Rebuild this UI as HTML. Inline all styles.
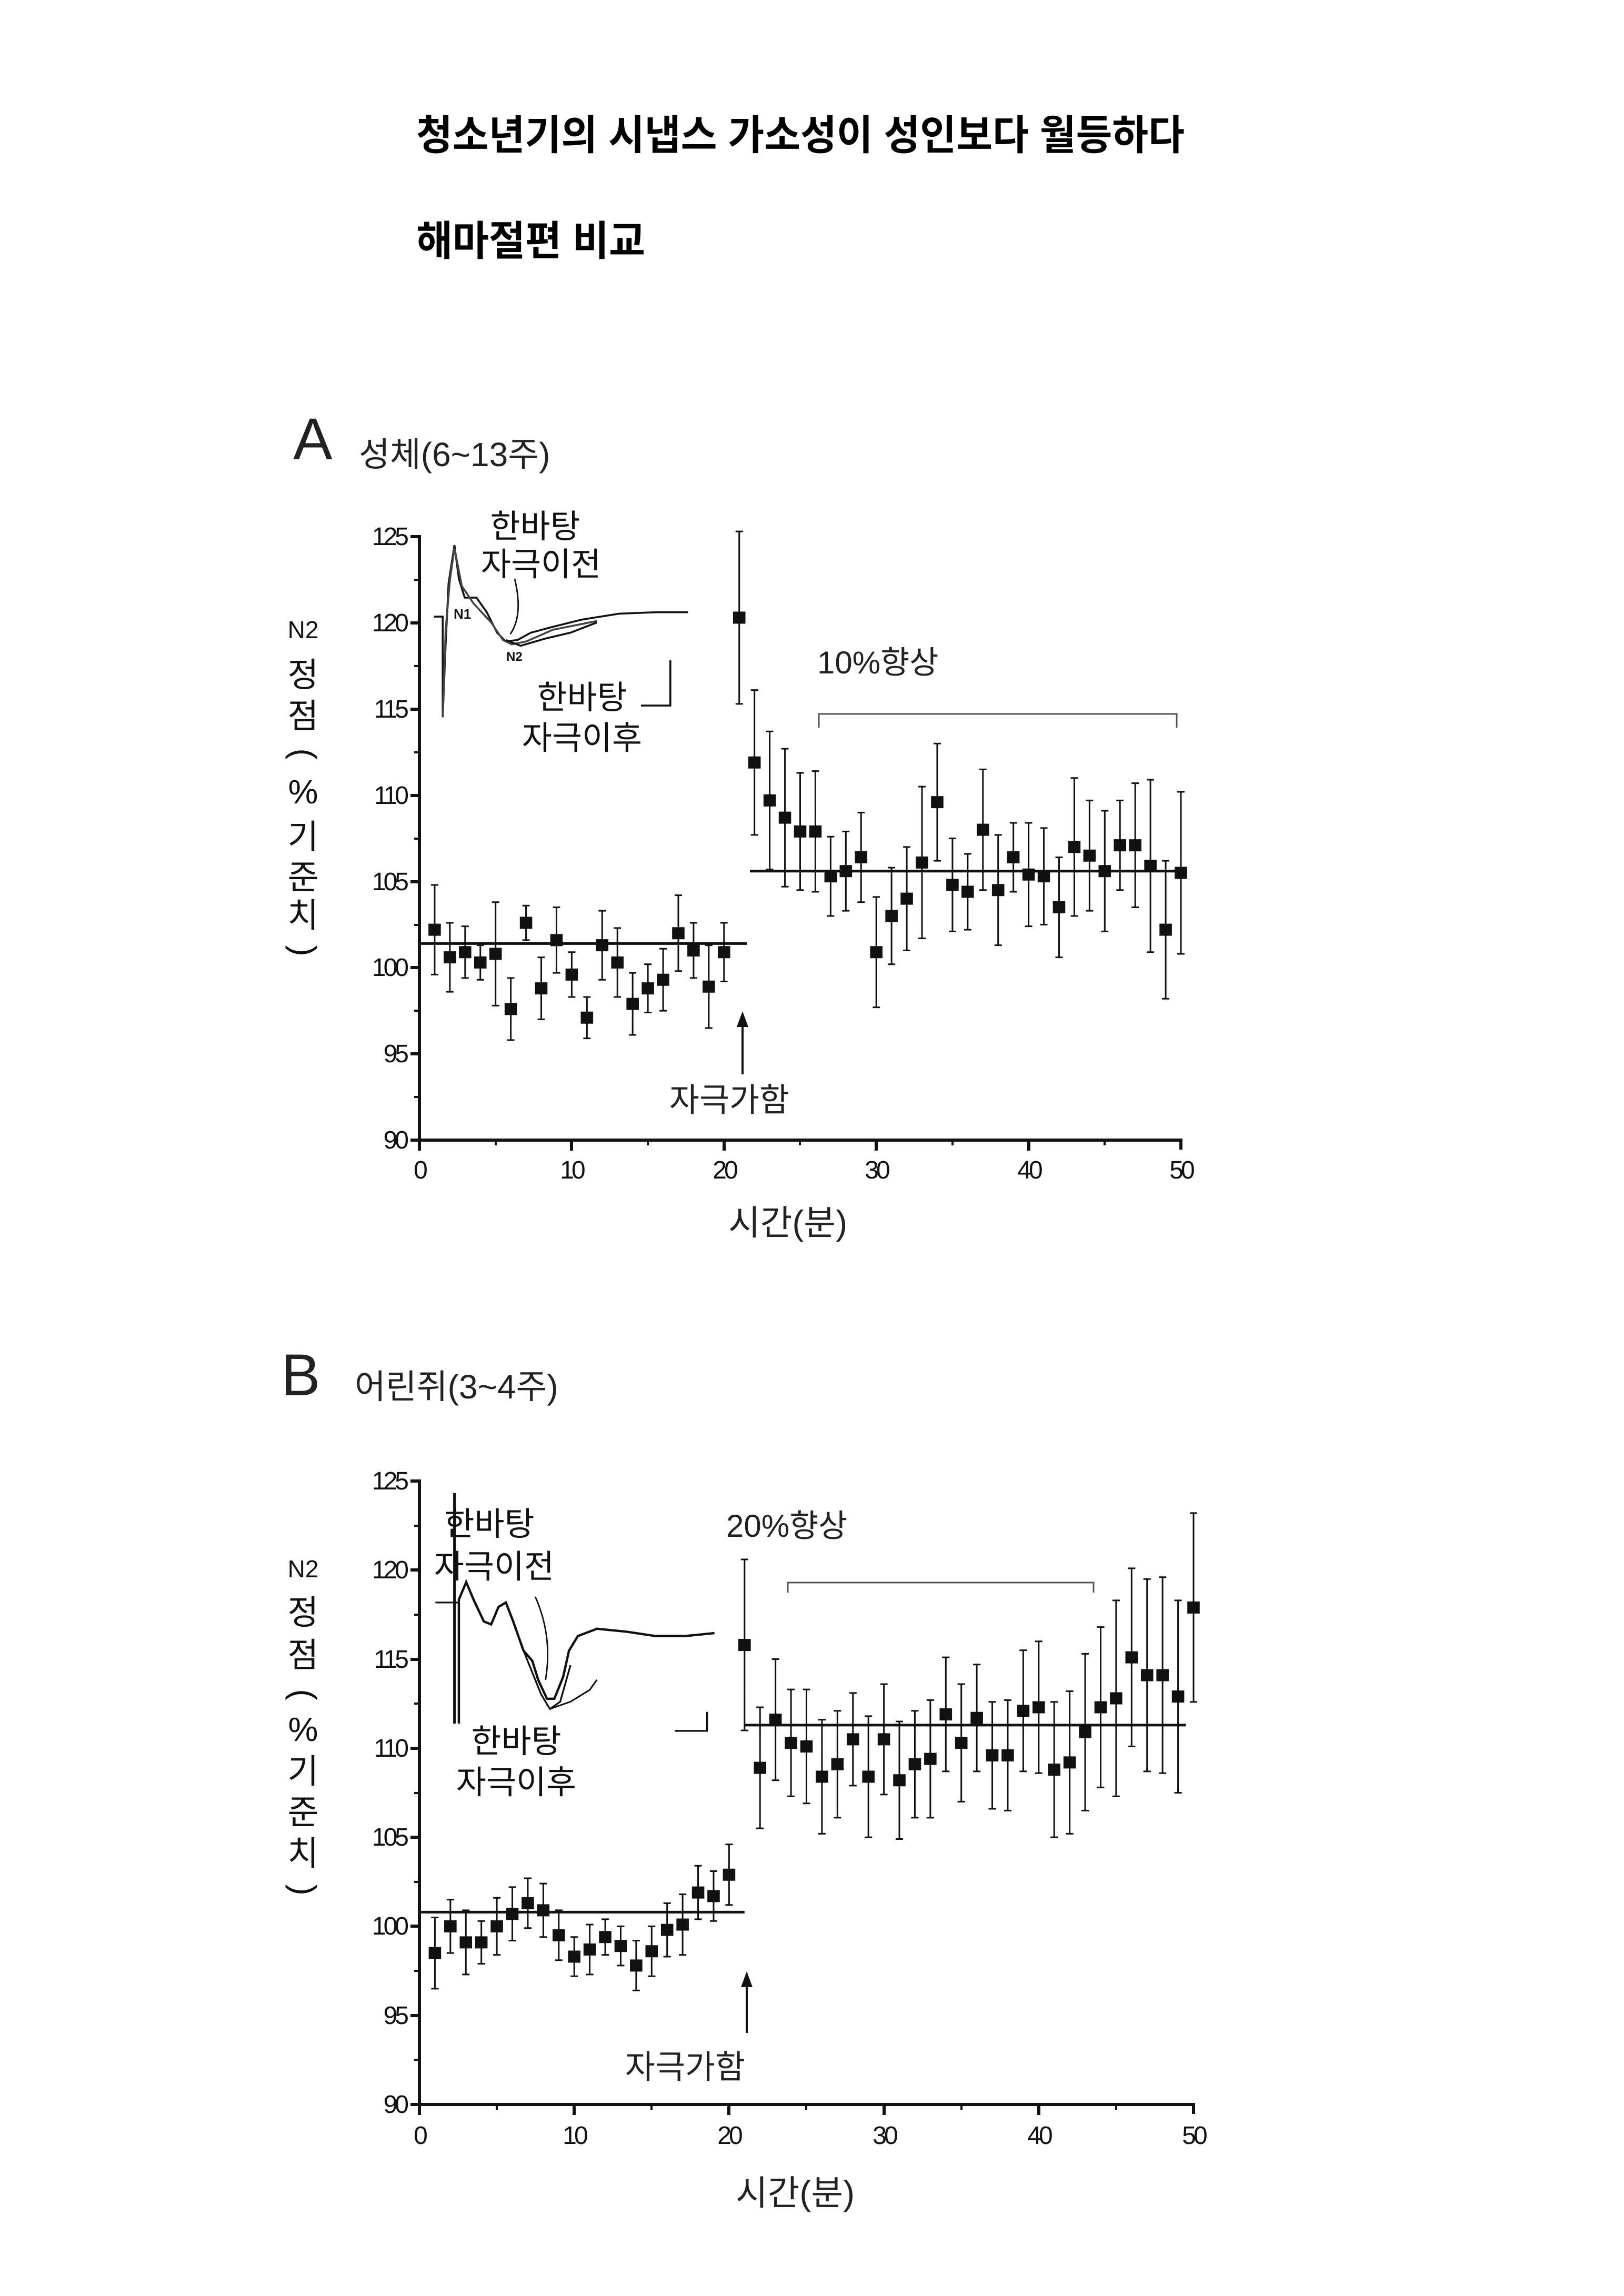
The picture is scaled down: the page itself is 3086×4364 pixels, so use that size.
<!DOCTYPE html>
<html><head><meta charset="utf-8">
<style>
html,body{margin:0;padding:0;background:#fff;}
svg{display:block;}
text{font-family:"Liberation Sans","Noto Sans CJK KR",sans-serif;fill:#111;}
.k{font-family:"Liberation Sans","Noto Sans CJK KR",sans-serif;}
.tk{font-size:48px;letter-spacing:-5px;}
</style></head>
<body>
<svg width="3086" height="4364" viewBox="0 0 3086 4364" xmlns="http://www.w3.org/2000/svg">
<rect width="3086" height="4364" fill="#fff"/>
<text x="791" y="284" font-size="78" font-weight="bold" textLength="1460" lengthAdjust="spacingAndGlyphs" style="fill:#000">청소년기의 시냅스 가소성이 성인보다 월등하다</text>
<text x="791" y="485" font-size="78" font-weight="bold" textLength="435" lengthAdjust="spacingAndGlyphs" style="fill:#000">해마절편 비교</text>

<!-- ================= PANEL A ================= -->
<text x="557" y="873" font-size="112" style="fill:#222">A</text>
<text x="682" y="886" font-size="64" class="k" style="fill:#222">성체(6~13주)</text>

<g font-size="64" text-anchor="middle" style="fill:#222">
<text x="576" y="1213" font-size="46">N2</text>
<text x="576" y="1305">정</text>
<text x="576" y="1383">점</text>
<text x="576" y="1433" transform="rotate(90 576 1433)" dy="20">(</text>
<text x="576" y="1527">%</text>
<text x="576" y="1613">기</text>
<text x="576" y="1690">준</text>
<text x="576" y="1762">치</text>
<text x="576" y="1807" transform="rotate(90 576 1807)" dy="20">)</text>
</g>

<g stroke="#111" stroke-width="6" fill="none">
<path d="M780 1020H797V2167H2244V2185"/>
<path d="M780 1184H797M780 1348H797M780 1512H797M780 1676H797M780 1839H797M780 2003H797M780 2167H797"/>
<path d="M787 1102H797M787 1266H797M787 1430H797M787 1594H797M787 1758H797M787 1921H797M787 2085H797" stroke-width="4"/>
<path d="M797 2167V2187M1086 2167V2187M1376 2167V2187M1665 2167V2187M1955 2167V2187"/>
<path d="M942 2167V2177M1231 2167V2177M1520 2167V2177M1810 2167V2177M2099 2167V2177" stroke-width="4"/>
</g>
<g class="tk" text-anchor="end">
<text x="772" y="1036">125</text><text x="772" y="1200">120</text><text x="772" y="1364">115</text>
<text x="772" y="1528">110</text><text x="772" y="1692">105</text><text x="772" y="1855">100</text>
<text x="772" y="2019">95</text><text x="772" y="2183">90</text>
</g>
<g class="tk" text-anchor="middle">
<text x="797" y="2240">0</text><text x="1086" y="2240">10</text><text x="1376" y="2240">20</text>
<text x="1665" y="2240">30</text><text x="1955" y="2240">40</text><text x="2244" y="2240">50</text>
</g>
<text x="1497" y="2347" font-size="66" text-anchor="middle" style="fill:#222">시간(분)</text>

<g transform="matrix(28.94 0 0 -32.77 797 5116.25)" fill="none" stroke="#111">
<path vector-effect="non-scaling-stroke" stroke-width="5" d="M0 101.4H21.5M21.7 105.6H50"/>
<path vector-effect="non-scaling-stroke" stroke-width="3" d="
M1 99.6V104.8M2 98.6V102.6M3 99.4V102.4M4 99.3V101.3M5 97.8V103.8M6 95.8V99.4M7 101.6V103.6M8 97V100.6M9 99.7V103.5M10 98.3V100.9
M11 95.9V98.3M12 99.3V103.3M13 98.3V102.3M14 96.1V99.7M15 97.4V100.2M16 97.5V101.1M17 99.8V104.2M18 99.4V102.6M19 96.5V101.3M20 99.2V102.6
M21 115.3V125.3M22 107.7V116.1M23 105.7V113.7M24 104.7V112.7M25 104.5V111.3M26 104.4V111.4M27 103V107.6M28 103.3V107.9M29 103.8V109M30 97.7V104.1
M31 100.2V105.8M32 101V107M33 101.7V110.5M34 106.2V113M35 102.1V107.5M36 102.2V106.6M37 104.5V111.5M38 101.3V107.7M39 104.4V108.4M40 102.4V108.4
M41 102.5V108.1M42 100.6V106.4M43 103V111M44 103.3V109.7M45 102.1V109.1M46 104.5V109.7M47 103.5V110.7M48 100.9V110.9M49 98.2V106.2M50 100.8V110.2"/>
<path vector-effect="non-scaling-stroke" stroke-width="3" d="
M.76 99.6h.48M.76 104.8h.48M1.76 98.6h.48M1.76 102.6h.48M2.76 99.4h.48M2.76 102.4h.48M3.76 99.3h.48M3.76 101.3h.48M4.76 97.8h.48M4.76 103.8h.48
M5.76 95.8h.48M5.76 99.4h.48M6.76 101.6h.48M6.76 103.6h.48M7.76 97h.48M7.76 100.6h.48M8.76 99.7h.48M8.76 103.5h.48M9.76 98.3h.48M9.76 100.9h.48
M10.76 95.9h.48M10.76 98.3h.48M11.76 99.3h.48M11.76 103.3h.48M12.76 98.3h.48M12.76 102.3h.48M13.76 96.1h.48M13.76 99.7h.48M14.76 97.4h.48M14.76 100.2h.48
M15.76 97.5h.48M15.76 101.1h.48M16.76 99.8h.48M16.76 104.2h.48M17.76 99.4h.48M17.76 102.6h.48M18.76 96.5h.48M18.76 101.3h.48M19.76 99.2h.48M19.76 102.6h.48
M20.76 115.3h.48M20.76 125.3h.48M21.76 107.7h.48M21.76 116.1h.48M22.76 105.7h.48M22.76 113.7h.48M23.76 104.7h.48M23.76 112.7h.48M24.76 104.5h.48M24.76 111.3h.48
M25.76 104.4h.48M25.76 111.4h.48M26.76 103h.48M26.76 107.6h.48M27.76 103.3h.48M27.76 107.9h.48M28.76 103.8h.48M28.76 109h.48M29.76 97.7h.48M29.76 104.1h.48
M30.76 100.2h.48M30.76 105.8h.48M31.76 101h.48M31.76 107h.48M32.76 101.7h.48M32.76 110.5h.48M33.76 106.2h.48M33.76 113h.48M34.76 102.1h.48M34.76 107.5h.48
M35.76 102.2h.48M35.76 106.6h.48M36.76 104.5h.48M36.76 111.5h.48M37.76 101.3h.48M37.76 107.7h.48M38.76 104.4h.48M38.76 108.4h.48M39.76 102.4h.48M39.76 108.4h.48
M40.76 102.5h.48M40.76 108.1h.48M41.76 100.6h.48M41.76 106.4h.48M42.76 103h.48M42.76 111h.48M43.76 103.3h.48M43.76 109.7h.48M44.76 102.1h.48M44.76 109.1h.48
M45.76 104.5h.48M45.76 109.7h.48M46.76 103.5h.48M46.76 110.7h.48M47.76 100.9h.48M47.76 110.9h.48M48.76 98.2h.48M48.76 106.2h.48M49.76 100.8h.48M49.76 110.2h.48"/>
<path vector-effect="non-scaling-stroke" stroke-width="23" stroke-linecap="square" d="
M.99 102.2h.02M1.99 100.6h.02M2.99 100.9h.02M3.99 100.3h.02M4.99 100.8h.02M5.99 97.6h.02M6.99 102.6h.02M7.99 98.8h.02M8.99 101.6h.02M9.99 99.6h.02
M10.99 97.1h.02M11.99 101.3h.02M12.99 100.3h.02M13.99 97.9h.02M14.99 98.8h.02M15.99 99.3h.02M16.99 102h.02M17.99 101h.02M18.99 98.9h.02M19.99 100.9h.02
M20.99 120.3h.02M21.99 111.9h.02M22.99 109.7h.02M23.99 108.7h.02M24.99 107.9h.02M25.99 107.9h.02M26.99 105.3h.02M27.99 105.6h.02M28.99 106.4h.02M29.99 100.9h.02
M30.99 103h.02M31.99 104h.02M32.99 106.1h.02M33.99 109.6h.02M34.99 104.8h.02M35.99 104.4h.02M36.99 108h.02M37.99 104.5h.02M38.99 106.4h.02M39.99 105.4h.02
M40.99 105.3h.02M41.99 103.5h.02M42.99 107h.02M43.99 106.5h.02M44.99 105.6h.02M45.99 107.1h.02M46.99 107.1h.02M47.99 105.9h.02M48.99 102.2h.02M49.99 105.5h.02"/>
</g>

<path d="M1556 1383V1357H2236V1383" stroke="#555" stroke-width="3" fill="none"/>
<text x="1553" y="1280" font-size="60" style="fill:#222">10%향상</text>
<path d="M1411 2042V1940" stroke="#111" stroke-width="4"/>
<path d="M1411 1922L1400 1952H1422Z" fill="#111"/>
<text x="1386" y="2112" font-size="62" text-anchor="middle" style="fill:#222">자극가함</text>

<g transform="matrix(2.791 0 0 2.772 -10 5)" fill="none" stroke="#111" stroke-width="1.3">
<path d="M299 421H305V490L307 440L309 398L313 372L316 395L320 408L328 408L335 418L342 432L348 438L356 437L365 432L380 428L400 423L425 419L450 418L472 418"/>
<path d="M305 490L307 430L310 395L313 374L318 400L326 412L338 425L346 437L352 440L362 438L380 430L410 424" stroke="#444"/>
<path d="M348 437L358 441L375 436L392 432L410 425"/>
<path d="M354 395Q360 420 351 433" stroke-width="1"/>
<path d="M460 451V482H440"/>
</g>
<g font-size="26" font-weight="bold" style="fill:#111">
<text x="862" y="1176">N1</text>
<text x="962" y="1256" font-size="24">N2</text>
</g>
<g font-size="62" text-anchor="middle" style="fill:#222">
<text x="1017" y="1022">한바탕</text>
<text x="1028" y="1094">자극이전</text>
<text x="1106" y="1347">한바탕</text>
<text x="1106" y="1424">자극이후</text>
</g>

<!-- ================= PANEL B ================= -->
<text x="534" y="2652" font-size="112" style="fill:#222">B</text>
<text x="674" y="2658" font-size="64" style="fill:#222">어린쥐(3~4주)</text>

<g font-size="64" text-anchor="middle" style="fill:#222">
<text x="576" y="2998" font-size="46">N2</text>
<text x="576" y="3087">정</text>
<text x="576" y="3168">점</text>
<text x="576" y="3221" transform="rotate(90 576 3221)" dy="20">(</text>
<text x="576" y="3309">%</text>
<text x="576" y="3389">기</text>
<text x="576" y="3467">준</text>
<text x="576" y="3545">치</text>
<text x="576" y="3592" transform="rotate(90 576 3592)" dy="20">)</text>
</g>

<g stroke="#111" stroke-width="6" fill="none">
<path d="M780 2815H797V4000H2268V4018"/>
<path d="M780 2984H797M780 3154H797M780 3323H797M780 3492H797M780 3661H797M780 3831H797M780 4000H797"/>
<path d="M787 2900H797M787 3069H797M787 3238H797M787 3408H797M787 3577H797M787 3746H797M787 3915H797" stroke-width="4"/>
<path d="M797 4000V4020M1091 4000V4020M1385 4000V4020M1680 4000V4020M1974 4000V4020"/>
<path d="M944 4000V4010M1238 4000V4010M1532 4000V4010M1827 4000V4010M2121 4000V4010" stroke-width="4"/>
</g>
<g class="tk" text-anchor="end">
<text x="772" y="2831">125</text><text x="772" y="3000">120</text><text x="772" y="3170">115</text>
<text x="772" y="3339">110</text><text x="772" y="3508">105</text><text x="772" y="3677">100</text>
<text x="772" y="3847">95</text><text x="772" y="4016">90</text>
</g>
<g class="tk" text-anchor="middle">
<text x="797" y="4075">0</text><text x="1091" y="4075">10</text><text x="1385" y="4075">20</text>
<text x="1680" y="4075">30</text><text x="1974" y="4075">40</text><text x="2268" y="4075">50</text>
</g>
<text x="1511" y="4191" font-size="66" text-anchor="middle" style="fill:#222">시간(분)</text>

<g transform="matrix(29.42 0 0 -33.857 797 7047.1)" fill="none" stroke="#111">
<path vector-effect="non-scaling-stroke" stroke-width="5" d="M0 100.8H21M21 111.3H49.5"/>
<path vector-effect="non-scaling-stroke" stroke-width="3" d="
M1 96.5V100.5M2 98.5V101.5M3 97.3V100.9M4 97.9V100.3M5 98.4V101.6M6 99.2V102.2M7 99.9V102.7M8 99.4V102.4M9 98.1V100.9M10 97.2V99.4
M11 97.3V100.1M12 98.4V100.4M13 97.8V100M14 96.4V99.2M15 97.2V100M16 98.3V101.3M17 98.4V101.8M18 100.4V103.4M19 100.3V103.1M20 101.2V104.6
M21 111V120.6M22 105.5V112.3M23 108.2V115M24 107.3V113.3M25 106.9V113.3M26 105.2V111.6M27 106.1V112.1M28 107.9V113.1M29 105V111.8M30 107.4V113.6
M31 104.9V111.5M32 106.1V112.1M33 106.1V112.7M34 108.7V115.1M35 107V113.6M36 108.7V114.7M37 106.6V112.6M38 106.5V112.7M39 108.7V115.5M40 108.6V116
M41 105V112.6M42 105.2V113.2M43 106.5V115.3M44 107.8V116.8M45 107.3V118.3M46 110.1V120.1M47 108.7V119.5M48 108.6V119.6M49 107.5V118.3M50 112.6V123.2"/>
<path vector-effect="non-scaling-stroke" stroke-width="3" d="
M.76 96.5h.48M.76 100.5h.48M1.76 98.5h.48M1.76 101.5h.48M2.76 97.3h.48M2.76 100.9h.48M3.76 97.9h.48M3.76 100.3h.48M4.76 98.4h.48M4.76 101.6h.48
M5.76 99.2h.48M5.76 102.2h.48M6.76 99.9h.48M6.76 102.7h.48M7.76 99.4h.48M7.76 102.4h.48M8.76 98.1h.48M8.76 100.9h.48M9.76 97.2h.48M9.76 99.4h.48
M10.76 97.3h.48M10.76 100.1h.48M11.76 98.4h.48M11.76 100.4h.48M12.76 97.8h.48M12.76 100h.48M13.76 96.4h.48M13.76 99.2h.48M14.76 97.2h.48M14.76 100h.48
M15.76 98.3h.48M15.76 101.3h.48M16.76 98.4h.48M16.76 101.8h.48M17.76 100.4h.48M17.76 103.4h.48M18.76 100.3h.48M18.76 103.1h.48M19.76 101.2h.48M19.76 104.6h.48
M20.76 111h.48M20.76 120.6h.48M21.76 105.5h.48M21.76 112.3h.48M22.76 108.2h.48M22.76 115h.48M23.76 107.3h.48M23.76 113.3h.48M24.76 106.9h.48M24.76 113.3h.48
M25.76 105.2h.48M25.76 111.6h.48M26.76 106.1h.48M26.76 112.1h.48M27.76 107.9h.48M27.76 113.1h.48M28.76 105h.48M28.76 111.8h.48M29.76 107.4h.48M29.76 113.6h.48
M30.76 104.9h.48M30.76 111.5h.48M31.76 106.1h.48M31.76 112.1h.48M32.76 106.1h.48M32.76 112.7h.48M33.76 108.7h.48M33.76 115.1h.48M34.76 107h.48M34.76 113.6h.48
M35.76 108.7h.48M35.76 114.7h.48M36.76 106.6h.48M36.76 112.6h.48M37.76 106.5h.48M37.76 112.7h.48M38.76 108.7h.48M38.76 115.5h.48M39.76 108.6h.48M39.76 116h.48
M40.76 105h.48M40.76 112.6h.48M41.76 105.2h.48M41.76 113.2h.48M42.76 106.5h.48M42.76 115.3h.48M43.76 107.8h.48M43.76 116.8h.48M44.76 107.3h.48M44.76 118.3h.48
M45.76 110.1h.48M45.76 120.1h.48M46.76 108.7h.48M46.76 119.5h.48M47.76 108.6h.48M47.76 119.6h.48M48.76 107.5h.48M48.76 118.3h.48M49.76 112.6h.48M49.76 123.2h.48"/>
<path vector-effect="non-scaling-stroke" stroke-width="23" stroke-linecap="square" d="
M.99 98.5h.02M1.99 100h.02M2.99 99.1h.02M3.99 99.1h.02M4.99 100h.02M5.99 100.7h.02M6.99 101.3h.02M7.99 100.9h.02M8.99 99.5h.02M9.99 98.3h.02
M10.99 98.7h.02M11.99 99.4h.02M12.99 98.9h.02M13.99 97.8h.02M14.99 98.6h.02M15.99 99.8h.02M16.99 100.1h.02M17.99 101.9h.02M18.99 101.7h.02M19.99 102.9h.02
M20.99 115.8h.02M21.99 108.9h.02M22.99 111.6h.02M23.99 110.3h.02M24.99 110.1h.02M25.99 108.4h.02M26.99 109.1h.02M27.99 110.5h.02M28.99 108.4h.02M29.99 110.5h.02
M30.99 108.2h.02M31.99 109.1h.02M32.99 109.4h.02M33.99 111.9h.02M34.99 110.3h.02M35.99 111.7h.02M36.99 109.6h.02M37.99 109.6h.02M38.99 112.1h.02M39.99 112.3h.02
M40.99 108.8h.02M41.99 109.2h.02M42.99 110.9h.02M43.99 112.3h.02M44.99 112.8h.02M45.99 115.1h.02M46.99 114.1h.02M47.99 114.1h.02M48.99 112.9h.02M49.99 117.9h.02"/>
</g>

<path d="M1497 3027V3008H2078V3027" stroke="#555" stroke-width="3" fill="none"/>
<text x="1380" y="2921" font-size="60" style="fill:#222">20%향상</text>
<path d="M1419 3864V3765" stroke="#111" stroke-width="4"/>
<path d="M1419 3747L1408 3777H1430Z" fill="#111"/>
<text x="1302" y="3950" font-size="62" text-anchor="middle" style="fill:#222">자극가함</text>

<g transform="matrix(2.791 0 0 2.772 -10 5)" fill="none" stroke="#111" stroke-width="1.6">
<path d="M313 1022V1180" stroke-width="1.8"/>
<path d="M316 1180V1095L321 1083L326 1095L333 1110L338 1112L343 1100L348 1097L353 1110L360 1130L366 1137L370 1150L376 1163L381 1163L387 1148L391 1130L397 1120L410 1115L430 1117L450 1120L470 1120L490 1118"/>
<path d="M360 1130L366 1145L372 1160L378 1170L385 1165L392 1140" stroke-width="1.2"/>
<path d="M378 1170L392 1165L405 1157L410 1150" stroke-width="1.1"/>
<path d="M368 1093Q380 1120 375 1150" stroke-width="1"/>
<path d="M300 1097H316" stroke-width="1.2"/>
<path d="M485 1172V1185H463" stroke-width="1.2"/>
</g>
<g font-size="62" text-anchor="middle" style="fill:#222">
<text x="930" y="2918">한바탕</text>
<text x="939" y="2999">자극이전</text>
<text x="981" y="3331">한바탕</text>
<text x="981" y="3409">자극이후</text>
</g>
</svg>
</body></html>
